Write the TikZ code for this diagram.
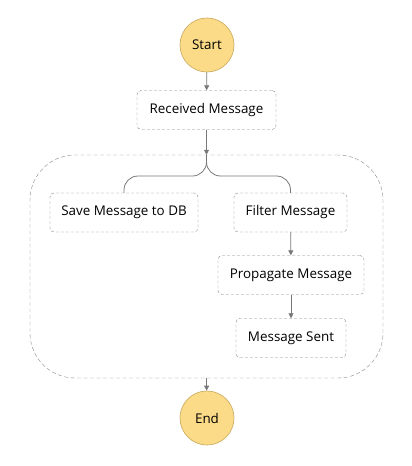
\documentclass[tikz,border=0pt]{standalone}
\usepackage{fontspec}
\setmainfont{Open Sans}
\usetikzlibrary{arrows.meta,positioning}
\definecolor{startfill}{RGB}{251,219,135}
\definecolor{startdraw}{RGB}{205,175,100}
\definecolor{linegray}{RGB}{120,120,120}
\definecolor{dashgray}{RGB}{135,135,135}
\begin{document}
\begin{tikzpicture}[x=1pt,y=-1pt,line join=round,>={Triangle[length=5pt,width=5pt]},font=\fontsize{13.4}{15}\selectfont]
	\tikzset{endpoint/.style={circle,fill=startfill,draw=startdraw,line width=0.7pt,minimum size=54pt,inner sep=0pt},
		task/.style={rectangle,rounded corners=4pt,draw=dashgray,dash pattern=on 3pt off 2pt,fill=white,minimum height=39pt,inner sep=0pt},
		flow/.style={draw=linegray,line width=0.8pt}}
	\useasboundingbox (0,0) rectangle (412,466);
	% parallel block
	\node[draw=dashgray,dash pattern=on 4pt off 2.5pt,rounded corners=45pt,minimum width=353pt,minimum height=223pt,inner sep=0pt] (par) at (206.5,266.5) {};
	\node[endpoint] (start) at (207,45) {Start};
	\node[task,minimum width=139pt] (recv) at (206.5,110) {Received Message};
	\node[task,minimum width=148pt] (save) at (124,212.5) {Save Message to DB};
	\node[task,minimum width=113pt] (filter) at (290.5,212.5) {Filter Message};
	\node[task,minimum width=146pt] (prop) at (291,275) {Propagate Message};
	\node[task,minimum width=110pt] (sent) at (291,338) {Message Sent};
	\node[endpoint] (end) at (207,418) {End};
	\coordinate (fork) at (par.north |- 0,176);
	\draw[flow,->] (start) -- (recv);
	\draw[flow,->] (recv) -- (par.north);
	\draw[flow,rounded corners=14pt] (par.north) -- (fork) -| (save.north);
	\draw[flow,rounded corners=14pt] (par.north) -- (fork) -| (filter.north);
	\draw[flow,->] (filter) -- (prop);
	\draw[flow,->] (prop) -- (sent);
	\draw[flow,->] (par.south) -- (end);
\end{tikzpicture}
\end{document}
